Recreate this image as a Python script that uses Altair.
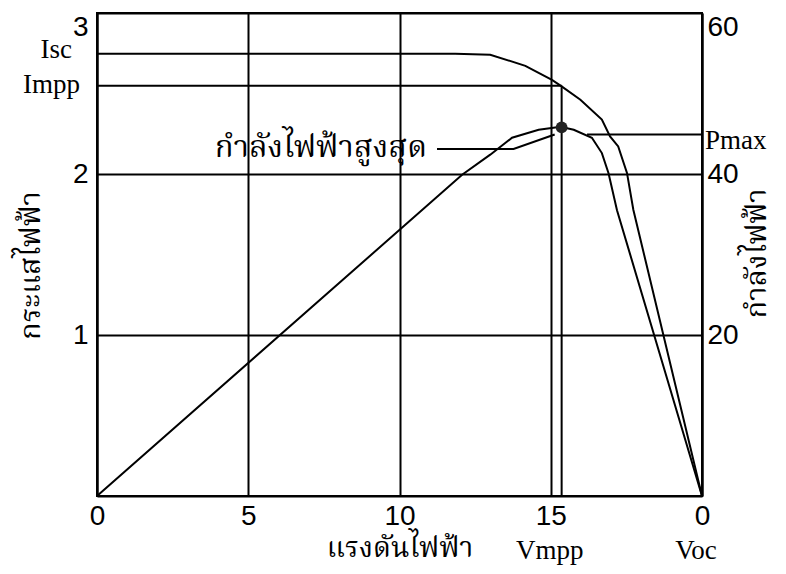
import altair as alt
import pandas as pd

# ---- data ----
iv_voltage = [0.0, 11.84, 13.0, 14.16, 15.04, 15.36, 15.98, 16.69, 16.96, 17.23, 17.52, 17.73, 20.0]
iv_current = [2.747, 2.747, 2.741, 2.672, 2.585, 2.544, 2.461, 2.338, 2.233, 2.171, 2.007, 1.778, 0.0]

pv_voltage = [0.0, 12.07, 13.0, 13.72, 14.60, 15.21, 15.39, 15.76, 16.36, 16.69, 16.91, 17.19, 20.0]
pv_power = [0.0, 39.9, 42.4, 44.5, 45.5, 45.8, 45.8, 45.5, 44.5, 42.6, 40.1, 35.5, 0.0]

isc = 2.747
impp = 2.548
vmpp = 15.36
voc = 20.0
pmax_point = [15.36, 45.8]
pmax_line_x = [16.2, 20.0]
pmax_line_level = 44.9
pointer_voltage = [11.24, 13.77, 15.13]
pointer_power = [43.1, 43.1, 44.9]

x_ticks = [0, 5, 10, 15, 20]
current_ticks = [1, 2, 3]
power_ticks = [20, 40, 60]

title_x = "แรงดันไฟฟ้า"
title_current = "กระแสไฟฟ้า"
title_power = "กำลังไฟฟ้า"
label_pmax_thai = "กำลังไฟฟ้าสูงสุด"

THAI = "Noto Serif Thai, Noto Sans Thai Looped, Noto Sans Thai, Garuda, Loma, Noto Sans"
SANS = "Liberation Sans"
SERIF = "Liberation Serif"

x_scale = alt.Scale(domain=[0, 20], nice=False, zero=False)
i_scale = alt.Scale(domain=[0, 3], nice=False)
p_scale = alt.Scale(domain=[0, 60], nice=False)

axis_common = dict(domainColor="black", domainWidth=2, ticks=False,
                   gridColor="black", gridWidth=2, gridOpacity=1,
                   labelFont=SANS, labelFontSize=28, labelColor="black",
                   titleFont=THAI, titleFontWeight="normal", titleColor="black")

x_axis = alt.Axis(values=x_ticks, grid=True, labelFlush=False, labelPadding=6,
                  labelExpr="datum.value == 20 ? '0' : datum.label",
                  title=title_x, titleFontSize=28, titleBaseline="alphabetic",
                  titleY=60, **axis_common)
i_axis = alt.Axis(values=current_ticks, grid=True, labelFlush=True, labelPadding=9,
                  format="d",
                  title=title_current, titleFontSize=29, titleAngle=270,
                  titleBaseline="alphabetic", titleX=-58, titleY=252, **axis_common)
p_axis = alt.Axis(values=power_ticks, grid=False, labelFlush=True, labelPadding=5,
                  format="d",
                  orient="right", title=title_power, titleFontSize=29, titleAngle=270,
                  titleBaseline="alphabetic", titleX=63, titleY=240, **axis_common)

iv_df = pd.DataFrame({"v": iv_voltage, "i": iv_current})
pv_df = pd.DataFrame({"v": pv_voltage, "p": pv_power})

iv_line = alt.Chart(iv_df).mark_line(color="black", strokeWidth=2).encode(
    x=alt.X("v:Q", scale=x_scale, axis=x_axis),
    y=alt.Y("i:Q", scale=i_scale, axis=i_axis),
)

impp_df = pd.DataFrame({"x0": [0.0], "x1": [vmpp], "i": [impp]})
impp_rule = alt.Chart(impp_df).mark_rule(color="black", strokeWidth=2).encode(
    x=alt.X("x0:Q", scale=x_scale), x2="x1:Q",
    y=alt.Y("i:Q", scale=i_scale),
)
vmpp_df = pd.DataFrame({"v": [vmpp], "i0": [0.0], "i1": [impp]})
vmpp_rule = alt.Chart(vmpp_df).mark_rule(color="black", strokeWidth=2).encode(
    x=alt.X("v:Q", scale=x_scale),
    y=alt.Y("i0:Q", scale=i_scale), y2="i1:Q",
)

def label(df, xf, yf, yscale, **kw):
    return alt.Chart(df).mark_text(color="black", **kw).encode(
        x=alt.X(xf, scale=x_scale), y=alt.Y(yf, scale=yscale), text="t:N")

isc_text = label(pd.DataFrame({"v": [0.0], "i": [isc], "t": ["Isc"]}), "v:Q", "i:Q", i_scale,
                 align="right", baseline="alphabetic", dx=-25, dy=4, font=SERIF, fontSize=27)
impp_text = label(pd.DataFrame({"v": [0.0], "i": [impp], "t": ["Impp"]}), "v:Q", "i:Q", i_scale,
                  align="right", baseline="alphabetic", dx=-17, dy=7, font=SERIF, fontSize=27)
vmpp_text = label(pd.DataFrame({"v": [vmpp], "i": [0.0], "t": ["Vmpp"]}), "v:Q", "i:Q", i_scale,
                  align="center", baseline="alphabetic", dx=-12, dy=63, font=SERIF, fontSize=27)
voc_text = label(pd.DataFrame({"v": [voc], "i": [0.0], "t": ["Voc"]}), "v:Q", "i:Q", i_scale,
                 align="center", baseline="alphabetic", dx=-6, dy=63, font=SERIF, fontSize=27)

current_layer = alt.layer(iv_line, impp_rule, vmpp_rule, isc_text, impp_text, vmpp_text, voc_text)

pv_line = alt.Chart(pv_df).mark_line(color="black", strokeWidth=2).encode(
    x=alt.X("v:Q", scale=x_scale),
    y=alt.Y("p:Q", scale=p_scale, axis=p_axis),
)
dot = alt.Chart(pd.DataFrame({"v": [pmax_point[0]], "p": [pmax_point[1]]})).mark_point(
    filled=True, size=140, color="#222222", opacity=1
).encode(x=alt.X("v:Q", scale=x_scale), y=alt.Y("p:Q", scale=p_scale))
pmax_rule = alt.Chart(pd.DataFrame({"x0": [pmax_line_x[0]], "x1": [pmax_line_x[1]], "p": [pmax_line_level]})).mark_rule(
    color="black", strokeWidth=2
).encode(x=alt.X("x0:Q", scale=x_scale), x2="x1:Q", y=alt.Y("p:Q", scale=p_scale))
pointer = alt.Chart(pd.DataFrame({"v": pointer_voltage, "p": pointer_power})).mark_line(
    color="black", strokeWidth=2
).encode(x=alt.X("v:Q", scale=x_scale), y=alt.Y("p:Q", scale=p_scale))
pmax_text = label(pd.DataFrame({"v": [20.0], "p": [pmax_line_level], "t": ["Pmax"]}), "v:Q", "p:Q", p_scale,
                  align="left", baseline="alphabetic", dx=3, dy=14, font=SERIF, fontSize=27)
thai_label = label(pd.DataFrame({"v": [pointer_voltage[0]], "p": [pointer_power[0]], "t": [label_pmax_thai]}),
                   "v:Q", "p:Q", p_scale,
                   align="right", baseline="alphabetic", dx=-10, dy=8, font=THAI, fontSize=31)

power_layer = alt.layer(pv_line, pmax_rule, pointer, dot, pmax_text, thai_label)

chart = alt.layer(current_layer, power_layer).resolve_scale(y="independent").properties(
    width=605, height=483,
    autosize=alt.AutoSizeParams(type="none"),
    padding={"left": 89, "top": 5, "right": 76, "bottom": 70},
    background="white",
).configure_view(stroke="black", strokeWidth=2)

chart.save("out.html", embed_options={"renderer": "svg", "actions": False})
